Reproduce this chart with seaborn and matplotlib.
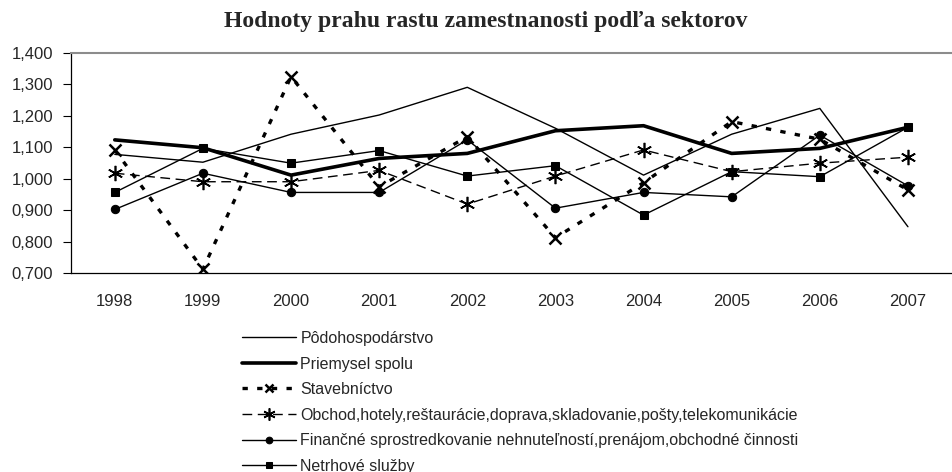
import matplotlib
matplotlib.use("Agg")
import matplotlib.pyplot as plt
import seaborn as sns
import numpy as np

years = ["1998", "1999", "2000", "2001", "2002", "2003", "2004", "2005", "2006", "2007"]

podohospodarstvo = [1.077, 1.052, 1.141, 1.202, 1.290, 1.160, 1.011, 1.141, 1.223, 0.847]
priemysel = [1.123, 1.098, 1.011, 1.064, 1.080, 1.152, 1.168, 1.080, 1.096, 1.163]
stavebnictvo = [1.091, 0.712, 1.324, 0.974, 1.133, 0.812, 0.987, 1.181, 1.125, 0.964]
obchod = [1.017, 0.990, 0.990, 1.026, 0.919, 1.008, 1.091, 1.022, 1.049, 1.068]
financne = [0.902, 1.017, 0.956, 0.956, 1.123, 0.906, 0.956, 0.942, 1.138, 0.977]
netrhove = [0.956, 1.096, 1.049, 1.089, 1.008, 1.041, 0.884, 1.022, 1.006, 1.163]

labels = [
    "Pôdohospodárstvo",
    "Priemysel spolu",
    "Stavebníctvo",
    "Obchod,hotely,reštaurácie,doprava,skladovanie,pošty,telekomunikácie",
    "Finančné sprostredkovanie nehnuteľností,prenájom,obchodné činnosti",
    "Netrhové služby",
]
title = "Hodnoty prahu rastu zamestnanosti podľa sektorov"
yticks = [0.7, 0.8, 0.9, 1.0, 1.1, 1.2, 1.3, 1.4]

sns.set_style("white")
plt.rcParams["font.family"] = ["Liberation Sans", "DejaVu Sans"]

fig = plt.figure(figsize=(9.52, 4.72), dpi=100)
ax = fig.add_axes([70.7 / 952, 1 - 273 / 472, 1 - 70.7 / 952, (273 - 52.7) / 472])

xpos = np.arange(len(years))
series = [podohospodarstvo, priemysel, stavebnictvo, obchod, financne, netrhove]
styles = [
    dict(linewidth=1.0, linestyle="-"),
    dict(linewidth=2.6, linestyle="-"),
    dict(linewidth=2.4, linestyle=(0, (1.6, 2.8)), marker="x", markersize=8, markeredgewidth=1.8),
    dict(linewidth=1.0, linestyle=(0, (7, 4)), marker=(6, 2, 0), markersize=11, markeredgewidth=1.2),
    dict(linewidth=1.0, linestyle="-", marker="o", markersize=6),
    dict(linewidth=1.0, linestyle="-", marker="s", markersize=6),
]
for vals, lab, st in zip(series, labels, styles):
    sns.lineplot(x=xpos, y=vals, ax=ax, color="black", label=lab,
                 markerfacecolor="black", markeredgecolor="black", **st)

ax.set_ylim(0.7, 1.4)
ax.set_yticks(yticks)
ax.set_yticklabels([f"{v:.3f}".replace(".", ",") for v in yticks], fontsize=12)
ax.set_xlim(-0.5, 9.39)
ax.set_xticks(np.arange(-0.5, 9.6, 1.0))
ax.set_xticklabels([])
ax.set_xticks(xpos, minor=True)
ax.set_xticklabels(years, minor=True, fontsize=12)
ax.tick_params(axis="x", which="major", direction="out", length=5, width=0.8, color="black")
ax.tick_params(axis="x", which="minor", length=0, pad=15)
ax.tick_params(axis="y", direction="out", length=6, width=0.8, color="black", pad=6.5, left=True)
ax.set_xlabel("")
ax.set_ylabel("")

for s in ["left", "bottom"]:
    ax.spines[s].set_color("black")
    ax.spines[s].set_linewidth(0.9)
ax.spines["right"].set_visible(False)
ax.spines["top"].set_color("#8c8c8c")
ax.spines["top"].set_linewidth(1.5)
ax.spines["top"].set_visible(True)

handles, labs = ax.get_legend_handles_labels()
ax.get_legend().remove()
fig.legend(handles, labs, loc="upper left", bbox_to_anchor=(242 / 952, 1 - 331 / 472),
           frameon=False, fontsize=11.5, handlelength=3.4, handletextpad=0.25,
           labelspacing=0.66, borderpad=0, borderaxespad=0, markerscale=0.8)

fig.text(486 / 952, 1 - 22 / 472, title, ha="center", va="center",
         fontsize=17, fontweight="bold", family=["Liberation Serif", "DejaVu Serif"])

fig.savefig("out.png", dpi=100)
